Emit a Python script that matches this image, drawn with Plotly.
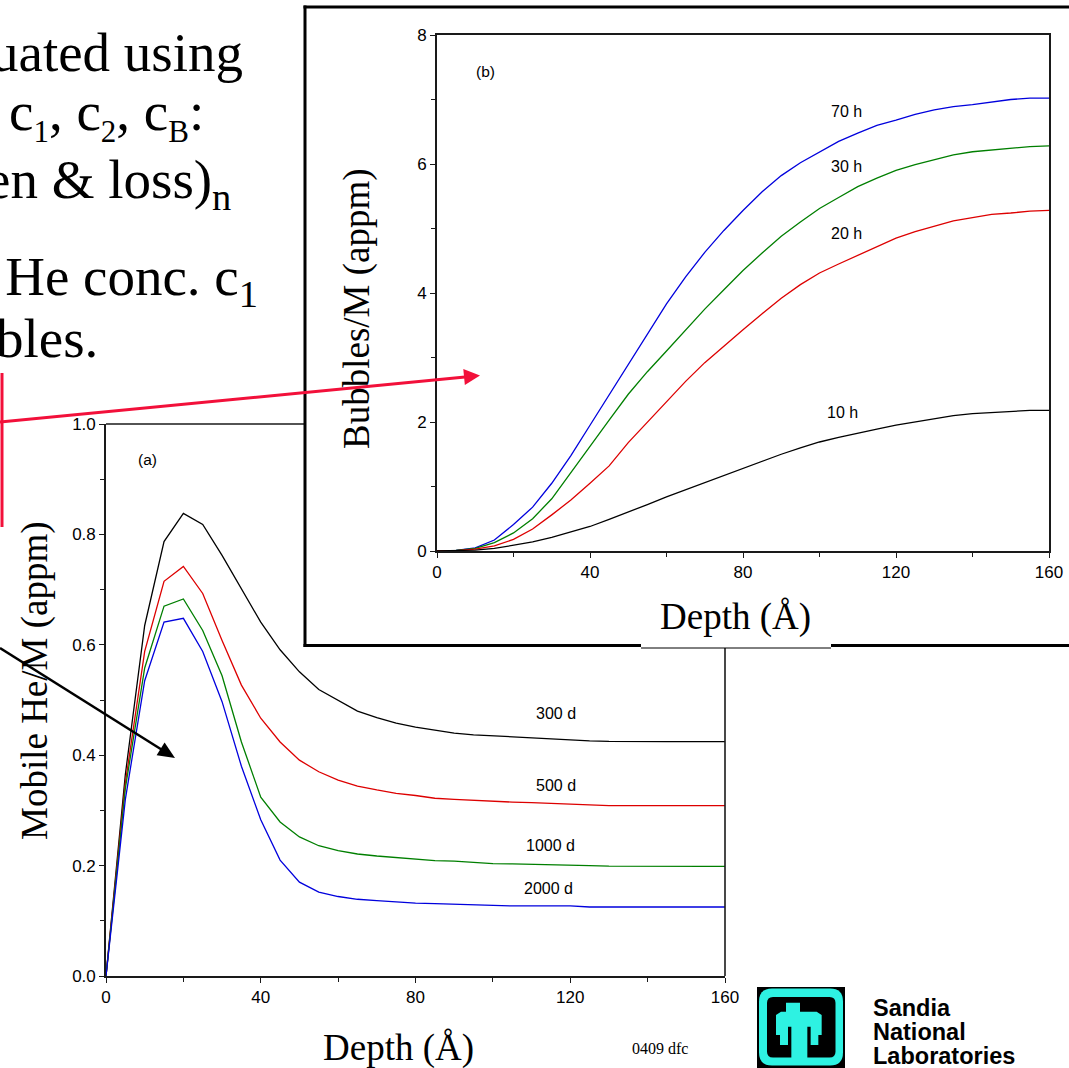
import plotly.graph_objects as go

W, H = 1069, 1068

# ---------------- data ----------------
depth = list(range(0, 165, 5))

he_300d = [0, 0.365, 0.635, 0.787, 0.838, 0.818, 0.762, 0.702, 0.641, 0.591,
           0.551, 0.519, 0.499, 0.480, 0.468, 0.458, 0.451, 0.446, 0.440, 0.437,
           0.435, 0.433, 0.431, 0.429, 0.427, 0.426, 0.425, 0.4245, 0.4245, 0.4245,
           0.4245, 0.4245, 0.4245]
he_500d = [0, 0.35, 0.588, 0.715, 0.742, 0.693, 0.608, 0.527, 0.467, 0.424,
           0.391, 0.370, 0.355, 0.344, 0.337, 0.331, 0.327, 0.322, 0.320, 0.318,
           0.316, 0.315, 0.314, 0.313, 0.312, 0.310, 0.3085, 0.3085, 0.3085, 0.3085,
           0.3085, 0.3085, 0.3085]
he_1000d = [0, 0.34, 0.558, 0.670, 0.683, 0.626, 0.544, 0.424, 0.324, 0.279,
            0.252, 0.236, 0.227, 0.221, 0.2174, 0.2144, 0.211, 0.209, 0.208, 0.206,
            0.2035, 0.203, 0.2025, 0.202, 0.2005, 0.200, 0.199, 0.1987, 0.1987, 0.1987,
            0.1987, 0.1987, 0.1987]
he_2000d = [0, 0.32, 0.535, 0.641, 0.648, 0.588, 0.497, 0.38, 0.283, 0.21,
            0.17, 0.152, 0.144, 0.139, 0.1365, 0.134, 0.132, 0.131, 0.130, 0.128,
            0.127, 0.127, 0.127, 0.127, 0.127, 0.125, 0.125, 0.125, 0.125, 0.125,
            0.125, 0.125, 0.125]

b_70h = [0, 0.01, 0.05, 0.17, 0.41, 0.68, 1.05, 1.48, 1.95, 2.42,
         2.88, 3.35, 3.83, 4.25, 4.63, 4.97, 5.28, 5.57, 5.82, 6.02,
         6.19, 6.35, 6.48, 6.60, 6.68, 6.77, 6.84, 6.89, 6.92, 6.96,
         7.0, 7.02, 7.02]
b_30h = [0, 0.01, 0.04, 0.13, 0.28, 0.50, 0.81, 1.22, 1.63, 2.03,
         2.43, 2.78, 3.10, 3.42, 3.75, 4.05, 4.35, 4.62, 4.88, 5.10,
         5.31, 5.48, 5.65, 5.78, 5.90, 5.99, 6.07, 6.14, 6.19, 6.22,
         6.25, 6.27, 6.28]
b_20h = [0, 0.005, 0.03, 0.08, 0.18, 0.34, 0.56, 0.79, 1.05, 1.32,
         1.68, 2.0, 2.32, 2.63, 2.92, 3.18, 3.43, 3.68, 3.92, 4.13,
         4.31, 4.45, 4.58, 4.72, 4.85, 4.95, 5.04, 5.12, 5.17, 5.22,
         5.24, 5.27, 5.28]
b_10h = [0, 0.002, 0.015, 0.04, 0.085, 0.14, 0.21, 0.29, 0.38, 0.49,
         0.60, 0.72, 0.84, 0.95, 1.07, 1.18, 1.29, 1.40, 1.50, 1.60,
         1.69, 1.76, 1.83, 1.89, 1.95, 2.00, 2.06, 2.10, 2.13, 2.15,
         2.17, 2.18, 2.18]

a_series = [("300 d", he_300d, "#000000"), ("500 d", he_500d, "#DD0000"),
            ("1000 d", he_1000d, "#007F00"), ("2000 d", he_2000d, "#0000DD")]
b_series = [("70 h", b_70h, "#0000DD"), ("30 h", b_30h, "#007F00"),
            ("20 h", b_20h, "#DD0000"), ("10 h", b_10h, "#000000")]

a_labels = [("300 d", 116.3, 0.475), ("500 d", 116.3, 0.346),
            ("1000 d", 114.8, 0.237), ("2000 d", 114.5, 0.158)]
b_labels = [("70 h", 107.1, 6.81), ("30 h", 107.1, 5.96),
            ("20 h", 107.1, 4.93), ("10 h", 106.1, 2.14)]

x_ticks = [0, 40, 80, 120, 160]

SANS = "Liberation Sans, Arial, sans-serif"
SERIF = "Liberation Serif, Times New Roman, serif"


def px(x):
    return x / W


def py(y):
    return 1 - y / H


fig = go.Figure()
for name, vals, col in a_series:
    fig.add_trace(go.Scatter(x=depth, y=vals, mode="lines", name=name,
                             line=dict(color=col, width=1.3), xaxis="x", yaxis="y",
                             showlegend=False))
for name, vals, col in b_series:
    fig.add_trace(go.Scatter(x=depth, y=vals, mode="lines", name=name,
                             line=dict(color=col, width=1.3), xaxis="x2", yaxis="y2",
                             showlegend=False))

axis_common = dict(showgrid=False, zeroline=False, showline=True, linecolor="#1a1a1a",
                   linewidth=1.6, ticks="outside", ticklen=5, tickwidth=1.3,
                   tickcolor="#1a1a1a", automargin=False,
                   tickfont=dict(family=SANS, size=17, color="black"))

fig.update_layout(
    width=W, height=H, margin=dict(l=0, r=0, t=0, b=0, autoexpand=False),
    paper_bgcolor="white", plot_bgcolor="rgba(0,0,0,0)",
    xaxis=dict(domain=[px(106), px(725)], range=[0, 160], tickvals=x_ticks,
               minor=dict(dtick=20, ticks="outside", ticklen=4, tickcolor="#1a1a1a"),
               anchor="y", mirror=False, **axis_common),
    yaxis=dict(domain=[py(976), py(424)], range=[0, 1], dtick=0.2, tickformat=".1f",
               minor=dict(dtick=0.1, ticks="outside", ticklen=4, tickcolor="#1a1a1a"),
               anchor="x", mirror=False, **axis_common),
    xaxis2=dict(domain=[px(437), px(1049)], range=[0, 160], tickvals=x_ticks,
                minor=dict(dtick=20, ticks="outside", ticklen=4, tickcolor="#1a1a1a"),
                anchor="y2", mirror=True, **axis_common),
    yaxis2=dict(domain=[py(551), py(35)], range=[0, 8], dtick=2,
                minor=dict(dtick=1, ticks="outside", ticklen=4, tickcolor="#1a1a1a"),
                anchor="x2", mirror=True, **axis_common),
)

shapes = []


def seg(x0, y0, x1, y1, color="black", width=1.5):
    shapes.append(dict(type="line", xref="paper", yref="paper", x0=px(x0), y0=py(y0),
                       x1=px(x1), y1=py(y1), line=dict(color=color, width=width)))


def poly(points, fill):
    d = "M " + " L ".join(f"{px(x):.5f},{py(y):.5f}" for x, y in points) + " Z"
    shapes.append(dict(type="path", xref="paper", yref="paper", path=d,
                       fillcolor=fill, line=dict(width=0)))


def rrect(x0, y0, x1, y1, r, fill):
    d = (f"M {px(x0 + r)},{py(y0)} L {px(x1 - r)},{py(y0)} Q {px(x1)},{py(y0)} {px(x1)},{py(y0 + r)} "
         f"L {px(x1)},{py(y1 - r)} Q {px(x1)},{py(y1)} {px(x1 - r)},{py(y1)} "
         f"L {px(x0 + r)},{py(y1)} Q {px(x0)},{py(y1)} {px(x0)},{py(y1 - r)} "
         f"L {px(x0)},{py(y0 + r)} Q {px(x0)},{py(y0)} {px(x0 + r)},{py(y0)} Z")
    shapes.append(dict(type="path", xref="paper", yref="paper", path=d,
                       fillcolor=fill, line=dict(width=0)))


def arrow(x0, y0, x1, y1, color, width, hl, hw):
    dx, dy = x1 - x0, y1 - y0
    L = (dx * dx + dy * dy) ** 0.5
    ux, uy = dx / L, dy / L
    bx, by = x1 - hl * ux, y1 - hl * uy
    seg(x0, y0, bx + ux, by + uy, color, width)
    pxv, pyv = -uy, ux
    poly([(x1, y1), (bx + hw * pxv, by + hw * pyv), (bx - hw * pxv, by - hw * pyv)], color)


# chart (a) visible top & right borders
seg(106, 424, 305, 424, "#1a1a1a", 1.6)
seg(725, 648, 725, 976, "#1a1a1a", 1.6)

# box around chart (b)
seg(305, 5.5, 305, 647, "black", 3)
seg(303.5, 7, 1069, 7, "black", 3)
seg(303.5, 645.5, 641, 645.5, "black", 3)
seg(831, 645.5, 1069, 645.5, "black", 3)
seg(641, 648, 831, 648, "black", 1)

# red pointer
RED = "#F2103A"
seg(2, 373, 2, 527, RED, 3)
arrow(0, 422, 480, 375.5, RED, 3, 16, 8)

# black pointer
arrow(0, 648, 175, 758, "black", 2.5, 17, 7.5)

# Sandia logo
shapes.append(dict(type="rect", xref="paper", yref="paper", x0=px(757), y0=py(1068),
                   x1=px(845), y1=py(987), fillcolor="black", line=dict(width=0)))
CYAN = "#2EF2E2"
rrect(759, 988.5, 843, 1065.5, 13, CYAN)
rrect(767, 997, 835.5, 1057.5, 6, "black")
bird = [(108, 68), (150, 68), (150, 95), (200, 95), (215, 105), (215, 165), (205, 165),
        (205, 195), (182, 195), (182, 140), (172, 140), (172, 235), (124, 235),
        (124, 140), (114, 140), (114, 195), (90, 195), (90, 165), (78, 165), (78, 105),
        (93, 95), (108, 95)]
poly([(750 + a / 3, 980 + b / 3) for a, b in bird], CYAN)

annotations = []


def txt(x, y, s, size, family=SERIF, xanchor="center", angle=0, bold=False):
    if bold:
        s = f"<b>{s}</b>"
    annotations.append(dict(x=px(x), y=py(y), xref="paper", yref="paper", text=s,
                            showarrow=False, xanchor=xanchor, yanchor="middle",
                            textangle=angle, font=dict(family=family, size=size, color="black")))


def sub(s, size=31):
    return f'<sub><span style="font-size:{size}px">{s}</span></sub>'


# slide text (cut off at left)
TS = 55
txt(245, 52, "uated using", TS, xanchor="right")
txt(206, 115, f"c{sub('1')}, c{sub('2')}, c{sub('B')}:", TS, xanchor="right")
txt(233, 183, "en &amp; loss)<sub>n</sub>", TS, xanchor="right")
txt(260, 281, "e He conc. c<sub>1</sub>", TS, xanchor="right")
txt(100, 339, "bles.", TS, xanchor="right")

# axis titles
txt(35, 681, "Mobile He/M (appm)", 37, angle=-90)
txt(399, 1048, "Depth (Å)", 37)
txt(357, 308, "Bubbles/M (appm)", 37, angle=-90)
txt(735, 617, "Depth (Å)", 37)

txt(147, 459, "(a)", 15.5, family=SANS)
txt(485, 71, "(b)", 15.5, family=SANS)
txt(660, 1048, "0409 dfc", 16)

txt(871, 1008, "Sandia", 23.5, family=SANS, xanchor="left", bold=True)
txt(871, 1032, "National", 23.5, family=SANS, xanchor="left", bold=True)
txt(871, 1056, "Laboratories", 23.5, family=SANS, xanchor="left", bold=True)

for s, xv, yv in a_labels:
    annotations.append(dict(x=xv, y=yv, xref="x", yref="y", text=s, showarrow=False,
                            font=dict(family=SANS, size=16, color="black")))
for s, xv, yv in b_labels:
    annotations.append(dict(x=xv, y=yv, xref="x2", yref="y2", text=s, showarrow=False,
                            font=dict(family=SANS, size=16, color="black")))

fig.update_layout(shapes=shapes, annotations=annotations)
fig.write_html("out.html")
